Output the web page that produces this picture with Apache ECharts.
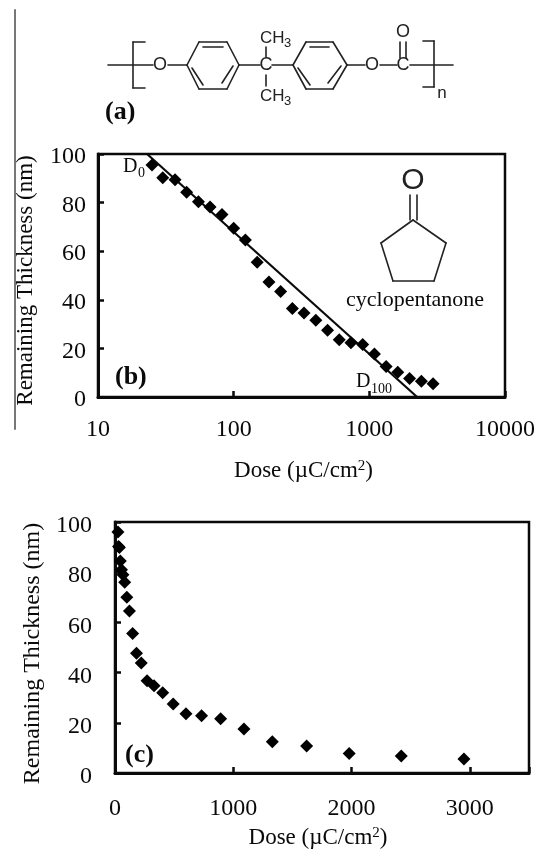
<!DOCTYPE html>
<html><head><meta charset="utf-8">
<style>html,body{margin:0;padding:0;background:#fff}#c{width:547px;height:849px}</style>
<script src="https://cdn.jsdelivr.net/npm/echarts@6/dist/echarts.min.js"></script>
</head><body><div id="c"></div>
<script>
const dose = [25,30,37,45,55,67,82,100,122,149,182,222,271,330,403,492,600,732,893,1090,1330,1620,1980,2420,2950];
const thicknessLog = [95.5,90.2,89.4,84.3,80.4,78.2,75.1,69.4,64.6,55.5,47.3,43.4,36.4,34.6,31.6,27.5,23.6,22.3,21.6,17.7,12.6,10.2,7.6,6.5,5.5];
const thicknessLin = [96,90.2,89.8,84.5,81,79,76,70,64.5,55.6,47.7,43.8,36.8,34.8,32,27.5,23.6,22.8,21.6,17.5,12.5,10.8,7.8,6.8,5.6];
const fitDose = [23,2250];
const fitThickness = [100,0];
const yTicks = [0,20,40,60,80,100];
const xTitle = 'Dose (µC/cm{s|2})';
const yTitle = 'Remaining Thickness (nm)';
const SERIF = '"Liberation Serif","Times New Roman",serif';
const SANS = '"Liberation Sans",Arial,sans-serif';
const INK = '#0a0a0a';

function pairs(a,b){return a.map((v,i)=>[v,b[i]]);}
function yAxis(grid,gap,size,margin,shift,lh){return {type:'value',gridIndex:grid,min:0,max:100,interval:20,
  name:yTitle,nameLocation:'middle',nameGap:gap,nameTextStyle:{fontFamily:SERIF,fontSize:size,color:INK,padding:[0,shift,0,0]},
  axisLine:{show:true,lineStyle:{color:INK,width:3}},
  axisTick:{show:true,inside:true,length:6,lineStyle:{color:INK,width:2.5}},
  axisLabel:{fontFamily:SERIF,fontSize:24,color:INK,margin:margin,verticalAlign:'top',lineHeight:lh,
    formatter:v=>yTicks.includes(v)?String(v):''},
  splitLine:{show:false}};}
function xBase(grid,gap,margin,pad){return {gridIndex:grid,
  name:xTitle,nameLocation:'middle',nameGap:gap,
  nameTextStyle:{fontFamily:SERIF,fontSize:23,color:INK,padding:pad,rich:{s:{fontFamily:SERIF,fontSize:15,color:INK,padding:[0,0,9,0]}}},
  axisLine:{show:true,lineStyle:{color:INK,width:3}},
  axisTick:{show:true,inside:true,length:6,lineStyle:{color:INK,width:2.5}},
  axisLabel:{fontFamily:SERIF,fontSize:24,color:INK,margin:margin,showMaxLabel:true,showMinLabel:true,
    formatter:v=>(v===3500?'':String(Math.round(v)))},
  minorTick:{show:false},splitLine:{show:false},minorSplitLine:{show:false}};}

function seg(x1,y1,x2,y2,w,c){return {type:'line',silent:true,shape:{x1,y1,x2,y2},style:{stroke:c||'#222',lineWidth:w||1.6,lineCap:'round'},z:5};}
function sans(text,x,y,size,align){return {type:'text',silent:true,x,y,z:6,style:{text,fill:'#222',font:`${size}px ${SANS}`,align:align||'center',verticalAlign:'middle'}};}
function serif(text,x,y,size,bold,align){return {type:'text',silent:true,x,y,z:6,style:{text,fill:INK,font:`${bold?'bold ':''}${size}px ${SERIF}`,align:align||'left',verticalAlign:'middle'}};}
function ring(x0,x1,x2,x3){
  const t=42,m=65,b=89;
  return [seg(x0,m,x1,t),seg(x1,t,x2,t),seg(x2,t,x3,m),seg(x3,m,x2,b),seg(x2,b,x1,b),seg(x1,b,x0,m),
    seg(x1+4,47,x2-4,47),seg(x0+5,68,x1+4,85),seg(x3-6,66,x2-5,83)];
}
const structure = [
  seg(15,10,15,429,2,'#777'),
  seg(108,65,153,65),seg(168,65,187,65),...ring(187,199,227,239),
  seg(239,65,260,65),seg(272,65,293,65),...ring(293,306,333,347),
  seg(347,65,365,65),seg(380,65,397,65),seg(410,65,453,65),
  seg(400,42,400,58),seg(406,42,406,58),
  seg(266,47,266,57),seg(266,75,266,86),
  seg(145,42,133,42),seg(133,42,133,88),seg(133,88,145,88),
  seg(423,41,434,41),seg(434,41,434,87),seg(434,87,423,87),
  sans('O',160,65,18),sans('C',266,65,18),sans('O',372,65,18),sans('C',403,65,18),sans('O',403,32,18),
  sans('CH',260,38,17,'left'),sans('3',284,43,13,'left'),
  sans('CH',260,96,17,'left'),sans('3',284,101,13,'left'),
  sans('n',442,93,17),
  serif('(a)',105,112,26,true),
  serif('D',123,167,20),serif('0',138,173,14),
  serif('(b)',115,377,26,true),
  serif('D',356,382,20),serif('100',371,389,14),
  serif('cyclopentanone',346,300,22),
  sans('O',413,181,30),
  seg(410,195,410,220),seg(417,195,417,220),
  seg(413,220,446,243),seg(446,243,434,281),seg(434,281,393,281),seg(393,281,381,243),seg(381,243,413,220),
  serif('(c)',125,755,26,true)
];

const option = {
  animation:false,backgroundColor:'#fff',
  grid:[
    {left:98,top:154,width:407,height:243,show:true,borderColor:INK,borderWidth:2.5,backgroundColor:'transparent',outerBoundsMode:'none'},
    {left:115,top:522,width:414,height:251,show:true,borderColor:INK,borderWidth:2.5,backgroundColor:'transparent',outerBoundsMode:'none'}
  ],
  xAxis:[
    Object.assign(xBase(0,62,21,[0,0,0,4]),{type:'log',logBase:10,min:10,max:10000}),
    Object.assign(xBase(1,53,24,[0,8,0,0]),{type:'value',min:0,max:3500,interval:1000})
  ],
  yAxis:[yAxis(0,61,23,12,10,6),yAxis(1,68,24,23,12,8)],
  series:[
    {type:'line',xAxisIndex:0,yAxisIndex:0,data:pairs(fitDose,fitThickness),showSymbol:false,symbol:'none',lineStyle:{color:INK,width:2.2},z:2},
    {type:'scatter',xAxisIndex:0,yAxisIndex:0,data:pairs(dose,thicknessLog),symbol:'diamond',symbolSize:13,itemStyle:{color:'#000',opacity:1},z:3},
    {type:'scatter',xAxisIndex:1,yAxisIndex:1,data:pairs(dose,thicknessLin),symbol:'diamond',symbolSize:13,itemStyle:{color:'#000',opacity:1},z:3}
  ],
  graphic:{elements:structure}
};
const chart = echarts.init(document.getElementById('c'),null,{renderer:'canvas'});
chart.setOption(option);
</script></body></html>
